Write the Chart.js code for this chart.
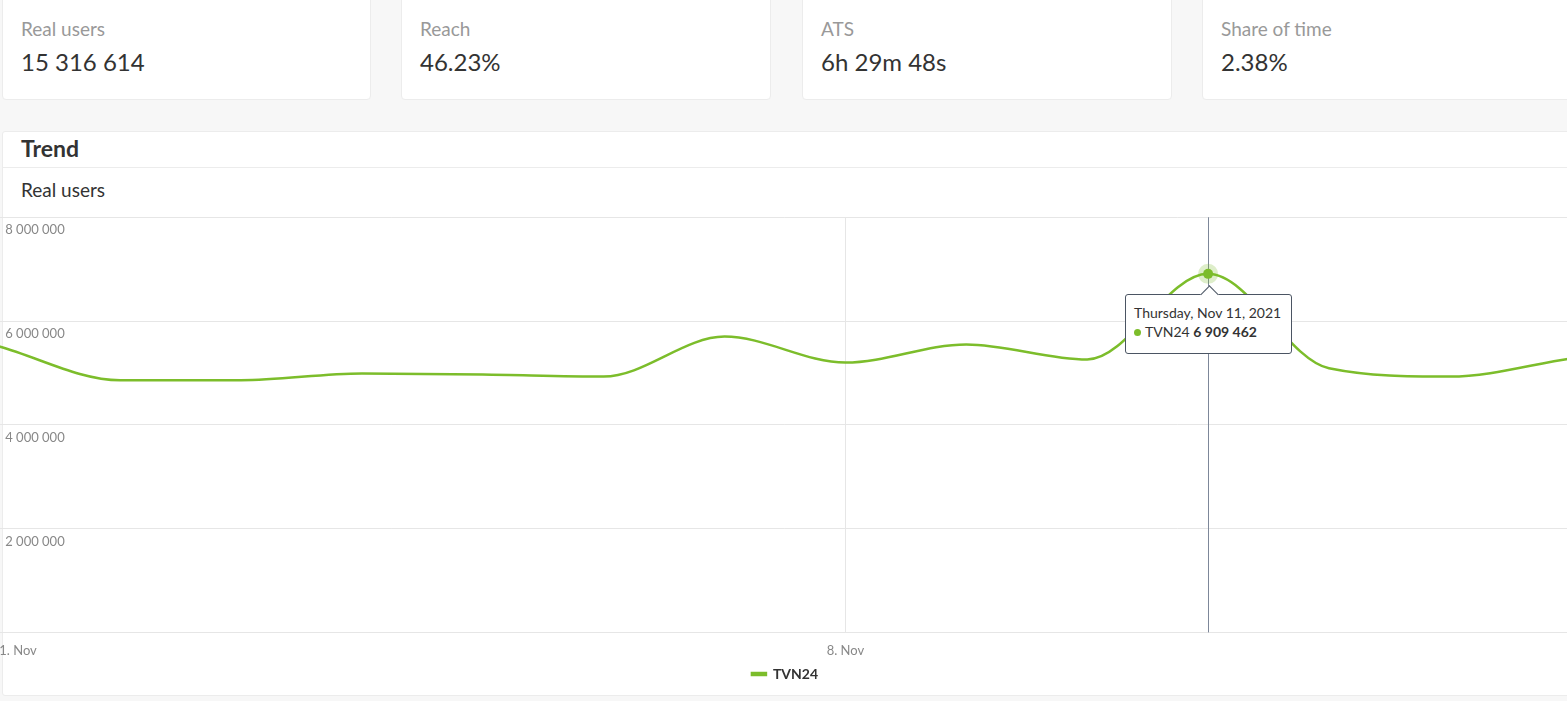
<!DOCTYPE html>
<html>
<head>
<meta charset="utf-8">
<script src="https://cdn.jsdelivr.net/npm/chart.js@4.4.1/dist/chart.umd.min.js"></script>
<style>
  html, body { margin: 0; padding: 0; }
  body { width: 1567px; height: 701px; background: #f7f7f7; font-family: Lato, "Open Sans", sans-serif; position: relative; overflow: hidden; }
  .card { position: absolute; top: -10px; height: 110px; background: #fff; border: 1px solid #ececec; border-radius: 4px; box-sizing: border-box; }
  .card .lbl { position: absolute; left: 18px; top: 26px; font-size: 19px; color: #999; }
  .card .val { position: absolute; left: 18px; top: 56px; font-size: 24px; color: #333; }
  .panel { position: absolute; left: 2px; top: 131px; width: 1600px; height: 565px; background: #fff; border: 1px solid #ececec; border-radius: 3px; box-sizing: border-box; }
  .title { position: absolute; left: 18px; top: 2px; font-size: 23px; font-weight: bold; color: #333; }
  .div1 { position: absolute; left: 0; right: 0; top: 35px; border-top: 1px solid #ececec; }
  .sub { position: absolute; left: 18px; top: 46px; font-size: 19px; color: #333; }
  #wrap { position: absolute; left: -2px; top: 216px; width: 1574px; height: 479px; }
  #tip { position: absolute; background: #fff; border: 1px solid #4b5563; border-radius: 3px; padding: 8px 10px 12px 8px; font-size: 14px; color: #333; white-space: nowrap; pointer-events: none; line-height: 19px; display: none; }
  #tip .caret { position: absolute; top: -7px; width: 12px; height: 12px; background: #fff; border-left: 1px solid #4b5563; border-top: 1px solid #4b5563; transform: rotate(45deg); }
  #tip .dot { display: inline-block; width: 7px; height: 7px; border-radius: 50%; margin-right: 4px; vertical-align: 1px; }
</style>
</head>
<body>
<div class="card" style="left:2px;width:369px"><div class="lbl">Real users</div><div class="val">15 316 614</div></div>
<div class="card" style="left:401px;width:370px"><div class="lbl">Reach</div><div class="val">46.23%</div></div>
<div class="card" style="left:802px;width:370px"><div class="lbl">ATS</div><div class="val">6h 29m 48s</div></div>
<div class="card" style="left:1202px;width:400px"><div class="lbl">Share of time</div><div class="val">2.38%</div></div>
<div class="panel">
  <div class="title">Trend</div>
  <div class="div1"></div>
  <div class="sub">Real users</div>
</div>
<div id="wrap"><canvas id="c"></canvas></div>
<div id="tip"><div class="caret"></div><div class="t1"></div><div class="t2"></div></div>
<script>
const dates = ['2021-11-01','2021-11-02','2021-11-03','2021-11-04','2021-11-05','2021-11-06','2021-11-07',
               '2021-11-08','2021-11-09','2021-11-10','2021-11-11','2021-11-12','2021-11-13','2021-11-14'];
const seriesName = 'TVN24';
const realUsers = [5510000, 4860000, 4860000, 4990000, 4970000, 4930000, 5700000,
                   5200000, 5550000, 5260000, 6909462, 5090000, 4930000, 5280000];
const xTickDays = [1, 8];
const yTicks = [2000000, 4000000, 6000000, 8000000];
const activeIndex = 10;

const GREEN = '#7cbd2b';
const months = ['Jan','Feb','Mar','Apr','May','Jun','Jul','Aug','Sep','Oct','Nov','Dec'];
const weekdays = ['Sunday','Monday','Tuesday','Wednesday','Thursday','Friday','Saturday'];
function parseD(s){ const [y,m,d] = s.split('-').map(Number); return new Date(Date.UTC(y, m-1, d)); }
function fmtNum(v){ return String(Math.round(v)).replace(/\B(?=(\d{3})+(?!\d))/g, ' '); }
function shortLabel(s){ const d = parseD(s); return d.getUTCDate() + '. ' + months[d.getUTCMonth()]; }
function longLabel(s){ const d = parseD(s); return weekdays[d.getUTCDay()] + ', ' + months[d.getUTCMonth()] + ' ' + d.getUTCDate() + ', ' + d.getUTCFullYear(); }

const crosshair = {
  id: 'crosshair',
  beforeDatasetsDraw(chart) {
    const act = chart.getActiveElements();
    if (!act.length) return;
    const x = Math.round(act[0].element.x) + 0.5;
    const {top, bottom} = chart.chartArea;
    const ctx = chart.ctx;
    ctx.save();
    ctx.strokeStyle = '#7d8799';
    ctx.lineWidth = 1;
    ctx.beginPath(); ctx.moveTo(x, top); ctx.lineTo(x, bottom); ctx.stroke();
    ctx.restore();
  }
};

function externalTip(context) {
  const {chart, tooltip} = context;
  const el = document.getElementById('tip');
  if (tooltip.opacity === 0 || !tooltip.dataPoints || !tooltip.dataPoints.length) { el.style.display = 'none'; return; }
  const dp = tooltip.dataPoints[0];
  el.querySelector('.t1').textContent = longLabel(dates[dp.dataIndex]);
  el.querySelector('.t2').innerHTML = '<span class="dot" style="background:' + GREEN + '"></span>' + dp.dataset.label + ' <b>' + fmtNum(dp.raw) + '</b>';
  el.style.display = 'block';
  const wrap = chart.canvas.parentNode;
  const w = el.offsetWidth;
  const px = wrap.offsetLeft + tooltip.caretX;
  const py = wrap.offsetTop + tooltip.caretY;
  el.style.left = Math.round(px - w / 2) + 'px';
  el.style.top = Math.round(py + 20) + 'px';
  el.querySelector('.caret').style.left = Math.round(w / 2 - 7) + 'px';
}

Chart.defaults.font.family = 'Lato, "Open Sans", sans-serif';

const chart = new Chart(document.getElementById('c'), {
  type: 'line',
  data: {
    labels: dates,
    datasets: [{
      label: seriesName,
      data: realUsers,
      borderColor: GREEN,
      backgroundColor: GREEN,
      borderWidth: 2.5,
      cubicInterpolationMode: 'monotone',
      pointRadius: 0,
      pointHoverRadius: 5,
      pointHoverBackgroundColor: GREEN,
      pointHoverBorderColor: 'rgba(124,189,43,0.25)',
      pointHoverBorderWidth: 10,
      fill: false
    }]
  },
  options: {
    responsive: true,
    maintainAspectRatio: false,
    animation: false,
    events: [],
    layout: { padding: { left: 0, right: 0, top: 1, bottom: 4 } },
    interaction: { mode: 'index', intersect: false },
    scales: {
      x: {
        offset: false,
        border: { display: true, color: '#e6e6e6' },
        afterFit: (axis) => { axis.paddingLeft = 0; axis.paddingRight = 0; axis.height -= 11; },
        grid: {
          drawTicks: false,
          color: (ctx) => {
            if (ctx.type !== 'tick') return 'rgba(0,0,0,0)';
            const d = parseD(dates[ctx.index]).getUTCDate();
            return (xTickDays.includes(d) && ctx.index !== 0) ? '#e6e6e6' : 'rgba(0,0,0,0)';
          }
        },
        ticks: {
          autoSkip: false,
          maxRotation: 0,
          align: 'inner',
          padding: 11,
          color: '#888',
          font: { size: 13 },
          callback: function(v, i) {
            const d = parseD(dates[i]).getUTCDate();
            return xTickDays.includes(d) ? shortLabel(dates[i]) : '';
          }
        }
      },
      y: {
        min: 0,
        max: yTicks[yTicks.length - 1],
        border: { display: false },
        afterFit: (axis) => { axis.paddingTop = 0; axis.paddingBottom = 0; axis.width = 0; },
        grid: { drawTicks: false, color: '#e6e6e6' },
        afterBuildTicks: (axis) => { axis.ticks = [0].concat(yTicks).map(v => ({ value: v })); },
        ticks: {
          mirror: true,
          padding: 6,
          labelOffset: 13,
          color: '#888',
          font: { size: 13 },
          callback: (v) => v === 0 ? '' : fmtNum(v)
        }
      }
    },
    plugins: {
      legend: {
        position: 'bottom',
        labels: {
          boxWidth: 14,
          boxHeight: 2,
          padding: 8,
          color: '#333',
          font: { size: 14, weight: 'bold' }
        }
      },
      tooltip: { enabled: false, external: externalTip, position: 'nearest' }
    }
  },
  plugins: [crosshair]
});

const act = [{ datasetIndex: 0, index: activeIndex }];
chart.setActiveElements(act);
const pt = chart.getDatasetMeta(0).data[activeIndex];
chart.tooltip.setActiveElements(act, { x: pt.x, y: pt.y });
chart.update();
</script>
</body>
</html>
